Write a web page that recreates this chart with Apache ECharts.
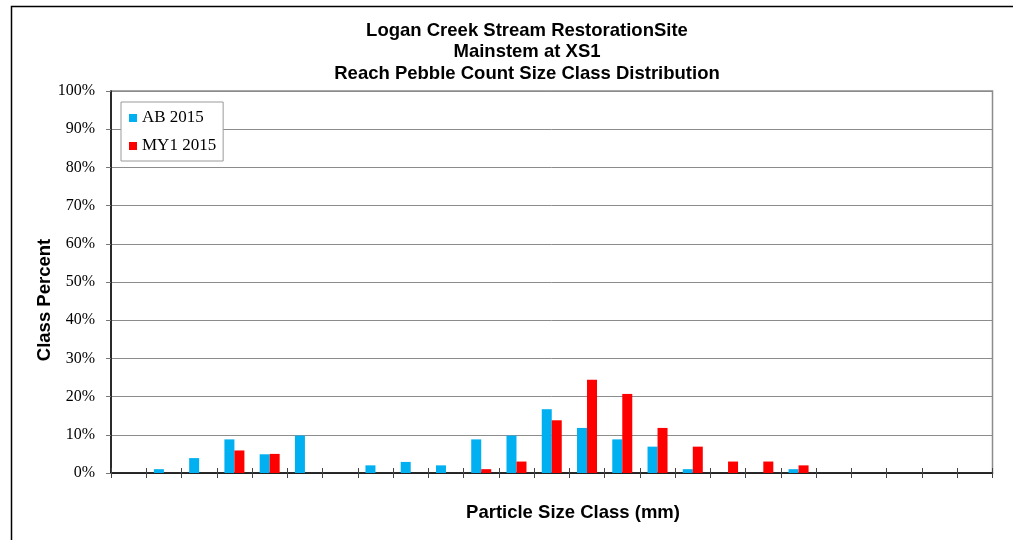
<!DOCTYPE html>
<html>
<head>
<meta charset="utf-8">
<title>Logan Creek Stream RestorationSite - Pebble Count</title>
<script src="https://cdn.jsdelivr.net/npm/echarts@6/dist/echarts.min.js"></script>
<style>
  html, body { margin: 0; padding: 0; background: #fff; }
  #chart { width: 1013px; height: 540px; }
</style>
</head>
<body>
<div id="chart"></div>
<script>
// Particle size classes (mm), silt/clay through bedrock
const sizeClasses = [
  'Silt/Clay <0.062', '0.062-0.125', '0.125-0.25', '0.25-0.5', '0.5-1.0', '1.0-2.0',
  '2.0-2.8', '2.8-4.0', '4.0-5.6', '5.6-8.0', '8.0-11.0', '11.0-16.0',
  '16.0-22.6', '22.6-32', '32-45', '45-64', '64-90', '90-128',
  '128-180', '180-256', '256-362', '362-512', '512-1024', '1024-2048', 'Bedrock'
];

// Class percent per size class
const ab2015 = [0, 1, 3.9, 8.8, 4.9, 9.8, 0, 2, 2.9, 2, 8.8, 9.8, 16.7, 11.8, 8.8, 6.9, 1, 0, 0, 1, 0, 0, 0, 0, 0];
const my12015 = [0, 0, 0, 5.9, 5, 0, 0, 0, 0, 0, 1, 3, 13.8, 24.4, 20.7, 11.8, 6.9, 3, 3, 2, 0, 0, 0, 0, 0];

const seriesNames = ['AB 2015', 'MY1 2015'];
const titleLines = [
  'Logan Creek Stream RestorationSite',
  'Mainstem at XS1',
  'Reach Pebble Count Size Class Distribution'
];
const xTitle = 'Particle Size Class (mm)';
const yTitle = 'Class Percent';

const sans = '"Liberation Sans", Arial, sans-serif';
const serif = '"Liberation Serif", "Times New Roman", serif';

const chart = echarts.init(document.getElementById('chart'), null, { renderer: 'canvas' });

chart.setOption({
  animation: false,
  backgroundColor: '#ffffff',
  color: ['#00b0f0', '#ff0000'],
  grid: {
    left: 111, right: 20.5, top: 91, bottom: 67,
    show: true, borderColor: '#8c8c8c', borderWidth: 1.5, backgroundColor: 'transparent'
  },
  legend: {
    orient: 'vertical',
    left: 121, top: 102,
    padding: [7, 7, 6, 8],
    itemGap: 10,
    itemWidth: 8, itemHeight: 8,
    icon: 'rect',
    backgroundColor: '#ffffff',
    borderColor: '#9a9a9a',
    borderWidth: 1,
    textStyle: { fontFamily: serif, fontSize: 17, color: '#000', lineHeight: 18 },
    data: seriesNames
  },
  xAxis: [
    {
      type: 'category',
      data: sizeClasses,
      boundaryGap: true,
      axisLine: { show: true, lineStyle: { color: '#000', width: 1.5 } },
      axisTick: { show: true, interval: 0, length: 5, lineStyle: { color: '#444' } },
      axisLabel: { show: false, interval: 0 },
      splitLine: { show: false }
    },
    {
      // inner half of the cross tick marks
      type: 'category',
      position: 'bottom',
      data: sizeClasses,
      boundaryGap: true,
      axisLine: { show: false },
      axisTick: { show: true, interval: 0, inside: true, length: 5, lineStyle: { color: '#444' } },
      axisLabel: { show: false, interval: 0 },
      splitLine: { show: false }
    }
  ],
  yAxis: {
    type: 'value',
    min: 0, max: 100, interval: 10,
    axisLine: { show: true, lineStyle: { color: '#000', width: 1.5 } },
    axisTick: { show: true, length: 5, lineStyle: { color: '#777' } },
    axisLabel: {
      formatter: '{value}%',
      margin: 16,
      fontFamily: serif, fontSize: 16, color: '#000'
    },
    splitLine: { show: true, lineStyle: { color: '#8c8c8c', width: 1 } }
  },
  series: [
    { name: seriesNames[0], type: 'bar', data: ab2015, barWidth: 10, barGap: '0%', xAxisIndex: 0 },
    { name: seriesNames[1], type: 'bar', data: my12015, barWidth: 10, barGap: '0%', xAxisIndex: 0 }
  ],
  graphic: [
    {
      type: 'rect',
      silent: true,
      shape: { x: 11.5, y: 6.5, width: 1100, height: 600 },
      style: { fill: 'none', stroke: '#000', lineWidth: 1.5 },
      z: -1
    },
    {
      type: 'text',
      silent: true,
      x: 527, y: 20,
      style: {
        text: titleLines.join('\n'),
        align: 'center', verticalAlign: 'top',
        fontFamily: sans, fontWeight: 'bold', fontSize: 18.5, lineHeight: 21.5,
        fill: '#000'
      }
    },
    {
      type: 'text',
      silent: true,
      x: 573, y: 513,
      style: {
        text: xTitle,
        align: 'center', verticalAlign: 'middle',
        fontFamily: sans, fontWeight: 'bold', fontSize: 18.5, fill: '#000'
      }
    },
    {
      type: 'text',
      silent: true,
      x: 45, y: 300,
      rotation: Math.PI / 2,
      style: {
        text: yTitle,
        align: 'center', verticalAlign: 'middle',
        fontFamily: sans, fontWeight: 'bold', fontSize: 18.5, fill: '#000'
      }
    }
  ]
});
</script>
</body>
</html>
